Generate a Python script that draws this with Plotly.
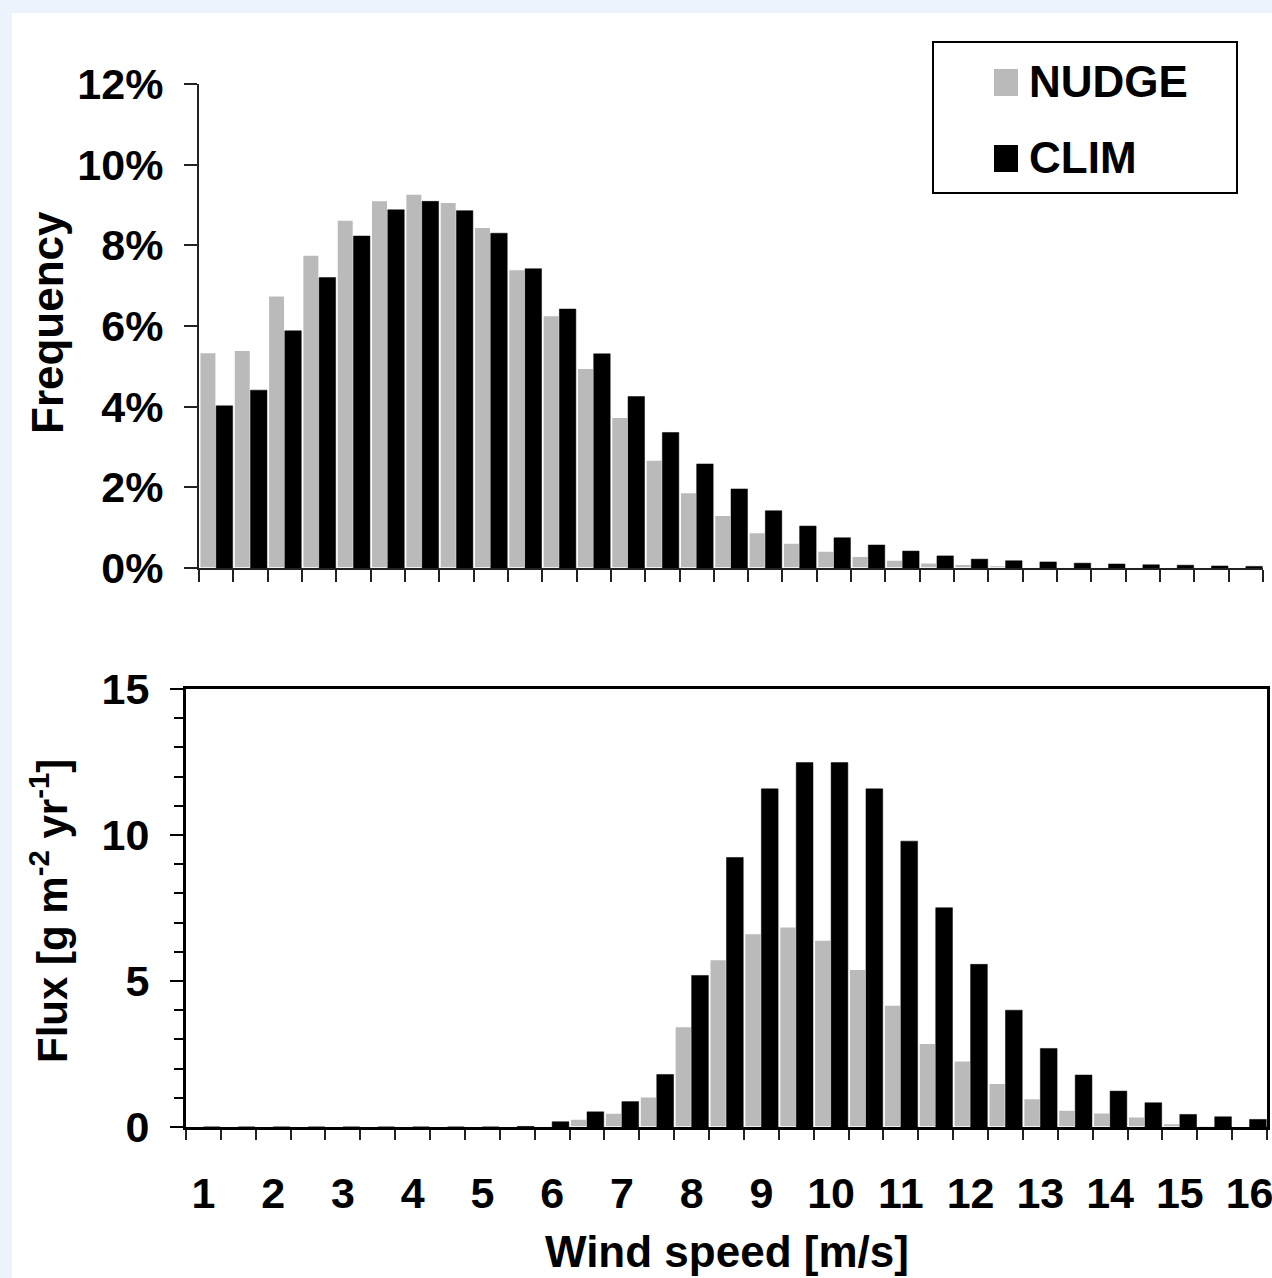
import plotly.graph_objects as go

# ---------------- data ----------------
speed = [1.0, 1.5, 2.0, 2.5, 3.0, 3.5, 4.0, 4.5, 5.0, 5.5, 6.0, 6.5, 7.0, 7.5, 8.0, 8.5,
         9.0, 9.5, 10.0, 10.5, 11.0, 11.5, 12.0, 12.5, 13.0, 13.5, 14.0, 14.5, 15.0, 15.5, 16.0]

freq_nudge = [5.34, 5.40, 6.75, 7.76, 8.63, 9.11, 9.27, 9.07, 8.45, 7.40, 6.26, 4.95, 3.74, 2.68,
              1.87, 1.31, 0.88, 0.62, 0.42, 0.29, 0.20, 0.13, 0.09, 0.06, 0.04, 0.03, 0.02, 0.02,
              0.01, 0.01, 0.01]
freq_clim = [4.02, 4.41, 5.88, 7.20, 8.23, 8.88, 9.09, 8.86, 8.30, 7.42, 6.42, 5.31, 4.25, 3.36,
             2.58, 1.96, 1.42, 1.04, 0.75, 0.57, 0.42, 0.30, 0.22, 0.18, 0.15, 0.12, 0.10, 0.08,
             0.07, 0.05, 0.04]

flux_nudge = [0, 0, 0, 0, 0, 0, 0, 0, 0, 0.01, 0.03, 0.27, 0.48, 1.04, 3.44, 5.74, 6.63, 6.86,
              6.40, 5.40, 4.18, 2.87, 2.27, 1.50, 0.98, 0.58, 0.49, 0.35, 0.12, 0.06, 0.03]
flux_clim = [0, 0, 0, 0, 0, 0, 0, 0, 0, 0.02, 0.18, 0.52, 0.87, 1.80, 5.19, 9.23, 11.58, 12.48,
             12.48, 11.58, 9.79, 7.51, 5.57, 4.00, 2.69, 1.78, 1.23, 0.83, 0.43, 0.35, 0.26]

series_names = ["NUDGE", "CLIM"]
x_tick_vals = list(range(1, 17))
x_tick_text = [str(v) for v in x_tick_vals]
freq_ticks = [0, 2, 4, 6, 8, 10, 12]
freq_tick_text = [f"{v}%" for v in freq_ticks]
flux_ticks = [0, 5, 10, 15]

# ---------------- layout helpers ----------------
W, H = 1272, 1278
ML, MR, MT, MB = 186, 5, 84, 151
PW = W - ML - MR
PH = H - MT - MB


def px(x):
    return (x - ML) / PW


def py(y):
    return (H - MB - y) / PH


BG = "#ecf3fd"
GRAY = "#bababa"
BLACK = "#000000"
FONT = "Liberation Sans, Arial, sans-serif"
tick_font = dict(family=FONT, size=43, color="black", weight="bold")
title_font = dict(family=FONT, size=44, color="black", weight="bold")
flux_title_font = dict(family=FONT, size=42, color="black", weight="bold")

fig = go.Figure()

fig.add_trace(go.Bar(x=speed, y=freq_nudge, name=series_names[0], xaxis="x", yaxis="y",
                     marker=dict(color=GRAY, line=dict(color="white", width=1.5)), showlegend=False))
fig.add_trace(go.Bar(x=speed, y=freq_clim, name=series_names[1], xaxis="x", yaxis="y",
                     marker=dict(color=BLACK, line=dict(color=BLACK, width=0.5)), showlegend=False))
fig.add_trace(go.Bar(x=speed, y=flux_nudge, name=series_names[0], xaxis="x2", yaxis="y2",
                     marker=dict(color=GRAY, line=dict(color="white", width=1.5)), showlegend=False))
fig.add_trace(go.Bar(x=speed, y=flux_clim, name=series_names[1], xaxis="x2", yaxis="y2",
                     marker=dict(color=BLACK, line=dict(color=BLACK, width=0.5)), showlegend=False))

xrange = [speed[0] - 0.25, speed[-1] + 0.25]
bin_edges = [v - 0.25 for v in speed] + [speed[-1] + 0.25]

fig.update_layout(
    width=W, height=H,
    margin=dict(l=ML, r=MR, t=MT, b=MB, autoexpand=False),
    paper_bgcolor=BG,
    plot_bgcolor="white",
    barmode="group",
    bargap=0.04,
    bargroupgap=0.0,
    xaxis=dict(domain=[px(199), px(1263)], range=xrange, anchor="y",
               showline=True, linecolor="#222", linewidth=2,
               tickmode="array", tickvals=bin_edges,
               ticks="outside", ticklen=12, tickwidth=2, tickcolor="#222",
               showticklabels=False, showgrid=False, zeroline=False),
    yaxis=dict(domain=[py(568), py(84)], range=[0, 12], anchor="x",
               showline=True, linecolor="#222", linewidth=2,
               tickmode="array", tickvals=freq_ticks, ticktext=freq_tick_text,
               ticks="outside", ticklen=13, tickwidth=2, tickcolor="#222",
               tickfont=tick_font, ticklabelstandoff=12,
               showgrid=False, zeroline=False),
    xaxis2=dict(domain=[0, 1], range=xrange, anchor="y2",
                showline=True, mirror=True, linecolor="black", linewidth=3,
                tickmode="array", tickvals=x_tick_vals, ticktext=x_tick_text, ticks="",
                tickfont=tick_font, ticklabelstandoff=26, ticklabeloverflow="allow",
                minor=dict(tickmode="array", tickvals=bin_edges,
                           ticks="outside", ticklen=10, tickwidth=2, tickcolor="#222", showgrid=False),
                showgrid=False, zeroline=False),
    yaxis2=dict(domain=[0, py(689)], range=[0, 15], anchor="x2",
                showline=True, mirror=True, linecolor="black", linewidth=3,
                tickmode="array", tickvals=flux_ticks,
                ticks="outside", ticklen=13, tickwidth=2, tickcolor="black",
                tickfont=tick_font, ticklabelstandoff=12,
                minor=dict(dtick=1, ticks="outside", ticklen=9, tickwidth=2, tickcolor="black", showgrid=False),
                showgrid=False, zeroline=False),
)

shapes = [
    # white figure area inside light-blue border
    dict(type="rect", xref="paper", yref="paper", x0=px(12), x1=px(1290), y0=py(1300), y1=py(13),
         fillcolor="white", line=dict(width=0), layer="below"),
    # legend box
    dict(type="rect", xref="paper", yref="paper", x0=px(933), x1=px(1237), y0=py(193), y1=py(42),
         fillcolor="white", line=dict(color="black", width=2), layer="above"),
    dict(type="rect", xref="paper", yref="paper", x0=px(994), x1=px(1018), y0=py(96), y1=py(69),
         fillcolor=GRAY, line=dict(width=0), layer="above"),
    dict(type="rect", xref="paper", yref="paper", x0=px(994), x1=px(1018), y0=py(172), y1=py(145),
         fillcolor=BLACK, line=dict(width=0), layer="above"),
]

annotations = [
    dict(text=series_names[0], xref="paper", yref="paper", x=px(1027), y=py(82),
         xanchor="left", yanchor="middle", showarrow=False, font=title_font),
    dict(text=series_names[1], xref="paper", yref="paper", x=px(1027), y=py(158),
         xanchor="left", yanchor="middle", showarrow=False, font=title_font),
    dict(text="Frequency", xref="paper", yref="paper", x=px(47), y=py(323), textangle=-90,
         xanchor="center", yanchor="middle", showarrow=False, font=title_font),
    dict(text="Flux [g m<sup>-2</sup> yr<sup>-1</sup>]", xref="paper", yref="paper", x=px(49), y=py(911),
         textangle=-90, xanchor="center", yanchor="middle", showarrow=False, font=flux_title_font),
    dict(text="Wind speed [m/s]", xref="paper", yref="paper", x=px(727), y=py(1251),
         xanchor="center", yanchor="middle", showarrow=False, font=title_font),
]

fig.update_layout(shapes=shapes, annotations=annotations)

fig.write_html(
    "out.html",
    config={"displayModeBar": False},
    post_script="document.body.style.margin='0';document.body.style.padding='0';"
                "document.body.style.background='" + BG + "';"
                "document.documentElement.style.overflow='hidden';",
)
